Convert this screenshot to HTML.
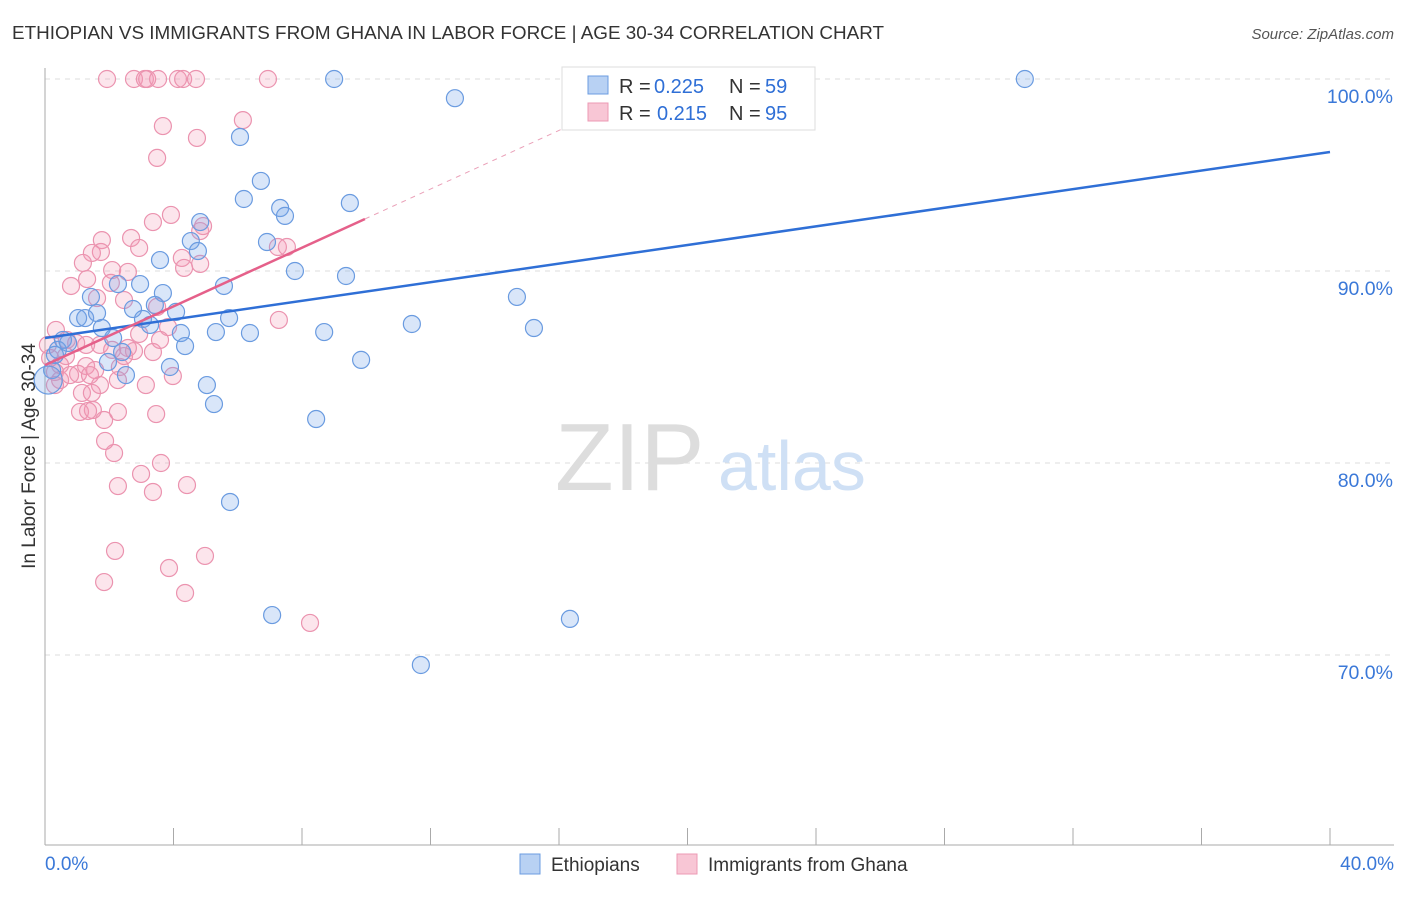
<!DOCTYPE html>
<html><head><meta charset="utf-8"><style>
body{margin:0;background:#fff;font-family:"Liberation Sans",sans-serif}
svg text{font-family:"Liberation Sans",sans-serif}
</style></head><body>
<svg id="chart" width="1406" height="892" xmlns="http://www.w3.org/2000/svg">
<text x="12" y="39" font-size="18" fill="#333" textLength="872" lengthAdjust="spacingAndGlyphs">ETHIOPIAN VS IMMIGRANTS FROM GHANA IN LABOR FORCE | AGE 30-34 CORRELATION CHART</text>
<text x="1394" y="39" font-size="15" fill="#555" font-style="italic" text-anchor="end">Source: ZipAtlas.com</text>
<text x="0" y="0" transform="translate(35,456) rotate(-90)" font-size="19" fill="#333" text-anchor="middle">In Labor Force | Age 30-34</text>
<g id="grid"></g>
<g id="axes"></g>
<text x="555" y="490" font-size="96" fill="#ddd" font-family="Liberation Serif">ZIP</text>
<text x="718" y="490" font-size="70" fill="#cfe0f5">atlas</text>
<g id="pink"></g>
<g id="blue"></g>
<g id="trends"></g>
<g>
<rect x="562" y="67" width="253" height="63" fill="#fff" stroke="#ddd"/>
<rect x="588" y="76" width="20" height="18" fill="#b8d1f3" stroke="#6b9ce0"/>
<rect x="588" y="103" width="20" height="18" fill="#f8c6d5" stroke="#ec9ab4"/>
<text x="619" y="93" font-size="20" fill="#333">R =</text>
<text x="654" y="93" font-size="20" fill="#2f6fd6">0.225</text>
<text x="729" y="93" font-size="20" fill="#333">N =</text>
<text x="765" y="93" font-size="20" fill="#2f6fd6">59</text>
<text x="619" y="120" font-size="20" fill="#333">R =</text>
<text x="657" y="120" font-size="20" fill="#2f6fd6">0.215</text>
<text x="729" y="120" font-size="20" fill="#333">N =</text>
<text x="765" y="120" font-size="20" fill="#2f6fd6">95</text>
</g>
<g>
<rect x="520" y="854" width="20" height="20" fill="#b8d1f3" stroke="#6b9ce0"/>
<text x="551" y="871" font-size="19" fill="#333">Ethiopians</text>
<rect x="677" y="854" width="20" height="20" fill="#f8c6d5" stroke="#ec9ab4"/>
<text x="708" y="871" font-size="19" fill="#333">Immigrants from Ghana</text>
</g>
</svg>
<script>
const blueX=[9.0,12.76,20.7,30.5,6.07,6.72,6.19,7.32,7.47,9.49,4.83,4.54,4.76,6.91,3.58,7.78,9.37,5.57,2.96,2.27,1.43,3.67,3.42,2.74,4.08,3.05,3.27,1.03,1.25,1.62,1.77,5.73,5.32,6.38,4.23,4.36,8.69,2.12,2.4,1.96,3.89,9.84,11.42,14.69,15.22,5.04,5.26,2.52,8.44,5.76,7.07,16.34,11.7,0.56,0.4,0.22,0.1,0.72,0.31];
const blueY=[100,99.0,100,100,96.98,94.69,93.75,93.28,92.87,93.54,92.55,91.56,91.04,91.51,90.57,90.0,89.74,89.22,89.32,89.32,88.65,88.85,88.23,88.02,87.87,87.5,87.19,87.55,87.55,87.81,87.03,87.55,86.82,86.77,86.77,86.09,86.82,86.51,85.78,85.26,85.0,85.37,87.24,88.65,87.03,84.06,83.07,84.58,82.29,77.97,72.08,71.88,69.48,86.41,85.89,84.84,84.32,86.25,85.63];
const pinkX=[1.93,2.77,3.11,3.18,3.52,4.14,4.3,4.7,6.94,3.67,4.73,6.16,3.49,3.36,3.92,2.68,1.77,1.74,1.46,2.93,1.18,2.09,2.58,2.05,4.83,4.92,4.26,4.33,4.83,0.81,1.31,1.62,2.46,3.49,3.83,2.93,2.77,3.36,2.58,0.97,2.33,2.27,1.71,1.28,1.56,1.03,1.4,0.65,0.47,0.31,0.16,0.09,0.34,0.68,1.71,1.28,2.09,1.84,2.15,1.87,3.46,2.27,1.09,1.49,1.34,2.27,3.36,3.61,4.42,2.99,2.18,3.86,4.98,1.84,4.36,8.25,7.25,7.53,7.28,3.98,3.14,0.47,0.31,0.78,1.15,1.46,3.58,2.46];
const pinkY=[100,100,100,100,100,100,100,100,100,97.55,96.93,97.86,95.89,92.55,92.92,91.72,91.61,90.99,90.94,91.2,90.42,90.05,89.95,89.38,92.08,92.34,90.68,90.16,90.37,89.22,89.58,88.59,88.49,88.13,87.08,86.72,85.83,85.78,85.99,86.25,85.0,84.32,84.06,85.05,84.84,84.64,84.58,85.57,85.1,84.74,85.47,86.15,86.93,86.41,86.15,86.15,85.89,82.24,80.52,81.15,82.55,82.66,82.66,82.76,82.71,78.8,78.49,80.0,78.85,79.43,75.42,74.53,75.16,73.8,73.23,71.67,91.25,91.25,87.45,84.53,84.06,84.32,84.06,84.58,83.65,83.65,86.41,85.57];
const yTicks=[100,90,80,70];
const yTickLabels=["100.0%","90.0%","80.0%","70.0%"];
const xTickVals=[0,4,8,12,16,20,24,28,32,36,40];
const blueTrend=[[0,86.51],[40,96.2]];
const pinkTrend=[[0,85.1],[9.96,92.71]];
const pinkDash=[[9.96,92.71],[17.28,98.3]];
const NS="http://www.w3.org/2000/svg";
const xs=v=>45+v/40*1285;
const ys=v=>79+(100-v)*19.2;
function mk(tag,attrs,parent){const e=document.createElementNS(NS,tag);for(const k in attrs)e.setAttribute(k,attrs[k]);parent.appendChild(e);return e;}
const grid=document.getElementById('grid'),axes=document.getElementById('axes');
yTicks.forEach((t,i)=>{
 const l=mk('line',{x1:45,x2:1394,y1:ys(t),y2:ys(t),stroke:'#ddd','stroke-dasharray':'5,5'},grid);
 
 
 const tx=mk('text',{x:1393,y:ys(t)+24,'font-size':19.5,fill:'#3a78d8','text-anchor':'end'},axes);
 tx.textContent=yTickLabels[i];
 
 
});
mk('line',{x1:45,x2:45,y1:68,y2:845,stroke:'#aaa'},axes);
mk('line',{x1:45,x2:1394,y1:845,y2:845,stroke:'#aaa'},axes);
xTickVals.forEach(v=>{const t=mk('line',{x1:xs(v),x2:xs(v),y1:828,y2:845,stroke:'#aaa'},axes);
 
 });
const x0=mk('text',{x:45,y:870,'font-size':19,fill:'#3a78d8'},axes);x0.textContent='0.0%';


const x1=mk('text',{x:1394,y:870,'font-size':19,fill:'#3a78d8','text-anchor':'end'},axes);x1.textContent='40.0%';


const pg=document.getElementById('pink');
pinkX.forEach((x,i)=>{const c=mk('circle',{cx:xs(x),cy:ys(pinkY[i]),r:8.5,fill:'rgba(242,150,178,0.25)',stroke:'#eb93af','stroke-width':1.2},pg);
 
 });
const bg=document.getElementById('blue');
blueX.forEach((x,i)=>{const c=mk('circle',{cx:xs(x),cy:ys(blueY[i]),r:(i==56?14:8.5),fill:'rgba(120,165,235,0.28)',stroke:'#6a9be0','stroke-width':1.2},bg);
 
 });
const tg=document.getElementById('trends');
const bl=mk('line',{x1:xs(blueTrend[0][0]),y1:ys(blueTrend[0][1]),x2:xs(blueTrend[1][0]),y2:ys(blueTrend[1][1]),stroke:'#2f6fd6','stroke-width':2.5},tg);


const pl=mk('line',{x1:xs(pinkTrend[0][0]),y1:ys(pinkTrend[0][1]),x2:xs(pinkTrend[1][0]),y2:ys(pinkTrend[1][1]),stroke:'#e5608a','stroke-width':2.5},tg);


const pd=mk('line',{x1:xs(pinkDash[0][0]),y1:ys(pinkDash[0][1]),x2:xs(pinkDash[1][0]),y2:ys(pinkDash[1][1]),stroke:'#eaa0b8','stroke-width':1,'stroke-dasharray':'5,5'},tg);


</script>
</body></html>
